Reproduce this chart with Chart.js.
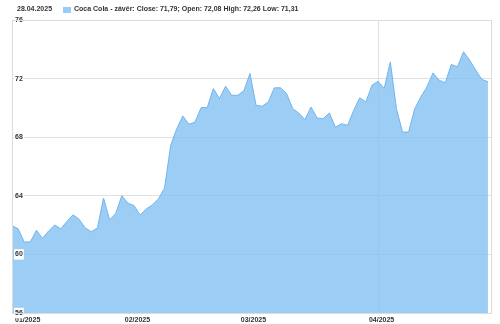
<!DOCTYPE html>
<html>
<head>
<meta charset="utf-8">
<script src="https://cdn.jsdelivr.net/npm/chart.js@4"></script>
<style>
  body { margin: 0; background: #fff; }
  #wrap { position: relative; width: 500px; height: 324px; }
  #head { position: absolute; left: 0; top: 0; width: 500px; height: 16px;
          font: bold 7px "Liberation Sans", Arial, sans-serif; color: #333; }
  #date { position: absolute; left: 17px; top: 5px; }
  #box { position: absolute; left: 63px; top: 7px; width: 8px; height: 6px; background: rgb(153,204,246); }
  #leg { position: absolute; left: 74px; top: 5px; white-space: nowrap; }
  canvas { position: absolute; left: 0; top: 0; }
</style>
</head>
<body>
<div id="wrap">
  <canvas id="chart" width="500" height="324"></canvas>
  <div id="head">
    <span id="date">28.04.2025</span>
    <span id="box"></span>
    <span id="leg">Coca Cola - závěr: Close: 71,79; Open: 72,08 High: 72,26 Low: 71,31</span>
  </div>
</div>
<script>
// daily close, 79 trading days
const closes = [
  61.96, 61.75, 60.85, 60.85, 61.65, 61.10, 61.60, 62.00, 61.75, 62.25,
  62.70, 62.40, 61.80, 61.55, 61.80, 63.85, 62.35, 62.80, 64.00, 63.50,
  63.33, 62.69, 63.10, 63.38, 63.79, 64.52, 67.44, 68.58, 69.45, 68.88,
  69.04, 70.02, 70.02, 71.32, 70.64, 71.48, 70.86, 70.86, 71.17, 72.35,
  70.18, 70.11, 70.41, 71.37, 71.37, 70.98, 69.95, 69.65, 69.20, 70.06,
  69.31, 69.27, 69.65, 68.69, 68.92, 68.81, 69.84, 70.69, 70.41, 71.55,
  71.82, 71.32, 73.14, 69.95, 68.35, 68.35, 69.95, 70.75, 71.43, 72.39,
  71.89, 71.71, 72.97, 72.80, 73.83, 73.26, 72.58, 71.94, 71.79
];
const monthLabels = ['01/2025', '02/2025', '03/2025', '04/2025'];
const monthStart = [0, 18, 37, 58];   // index of first trading day of each month
const markerIndex = 60;               // vertical marker line
const yTicks = [56, 60, 64, 68, 72, 76];

const tickFont = { family: '"Liberation Sans", Arial, sans-serif', size: 7, weight: 'bold' };
const gridColor = '#e0e0e0';

const areaBorder = {
  id: 'areaBorder',
  afterDraw(chart) {
    const a = chart.chartArea, ctx = chart.ctx;
    ctx.save();
    ctx.strokeStyle = '#dcdcdc';
    ctx.lineWidth = 1;
    ctx.strokeRect(Math.round(a.left) + 0.5, Math.round(a.top) + 0.5,
      Math.round(a.right - a.left), Math.round(a.bottom - a.top));
    ctx.restore();
  }
};

new Chart(document.getElementById('chart'), {
  type: 'line',
  data: {
    datasets: [{
      label: 'Coca Cola - závěr',
      data: closes.map((v, i) => ({ x: i, y: v })),
      borderColor: 'rgb(112,180,238)',
      backgroundColor: 'rgba(130,193,243,0.8)',
      borderWidth: 1,
      pointRadius: 0,
      fill: 'start',
      tension: 0
    }]
  },
  options: {
    responsive: false,
    animation: false,
    layout: { padding: { left: 12, top: 20, right: 9, bottom: 0 } },
    plugins: { legend: { display: false }, tooltip: { enabled: false } },
    scales: {
      x: {
        type: 'linear',
        min: 0,
        max: 78.5,
        afterBuildTicks: s => { s.ticks = monthStart.concat([markerIndex]).map(v => ({ value: v })); },
        afterFit: s => { s.height = 11; },
        border: { display: false },
        grid: {
          drawTicks: false,
          color: c => (c.tick && c.tick.value === markerIndex) ? gridColor : 'rgba(0,0,0,0)'
        },
        ticks: {
          z: 1,
          autoSkip: false,
          maxRotation: 0,
          align: 'start',
          labelOffset: 3,
          padding: 3,
          color: '#333',
          font: tickFont,
          callback: v => { const k = monthStart.indexOf(v); return k >= 0 ? monthLabels[k] : ''; }
        }
      },
      y: {
        min: 56,
        max: 76,
        afterBuildTicks: s => { s.ticks = yTicks.map(v => ({ value: v })); },
        afterFit: s => { s.width = 0; },
        border: { display: false },
        grid: { drawTicks: false, color: gridColor },
        ticks: {
          z: 2,
          mirror: true,
          padding: 3,
          color: '#333',
          font: tickFont,
          showLabelBackdrop: true,
          backdropColor: '#fff',
          backdropPadding: 1
        }
      }
    }
  },
  plugins: [areaBorder]
});
</script>
</body>
</html>
